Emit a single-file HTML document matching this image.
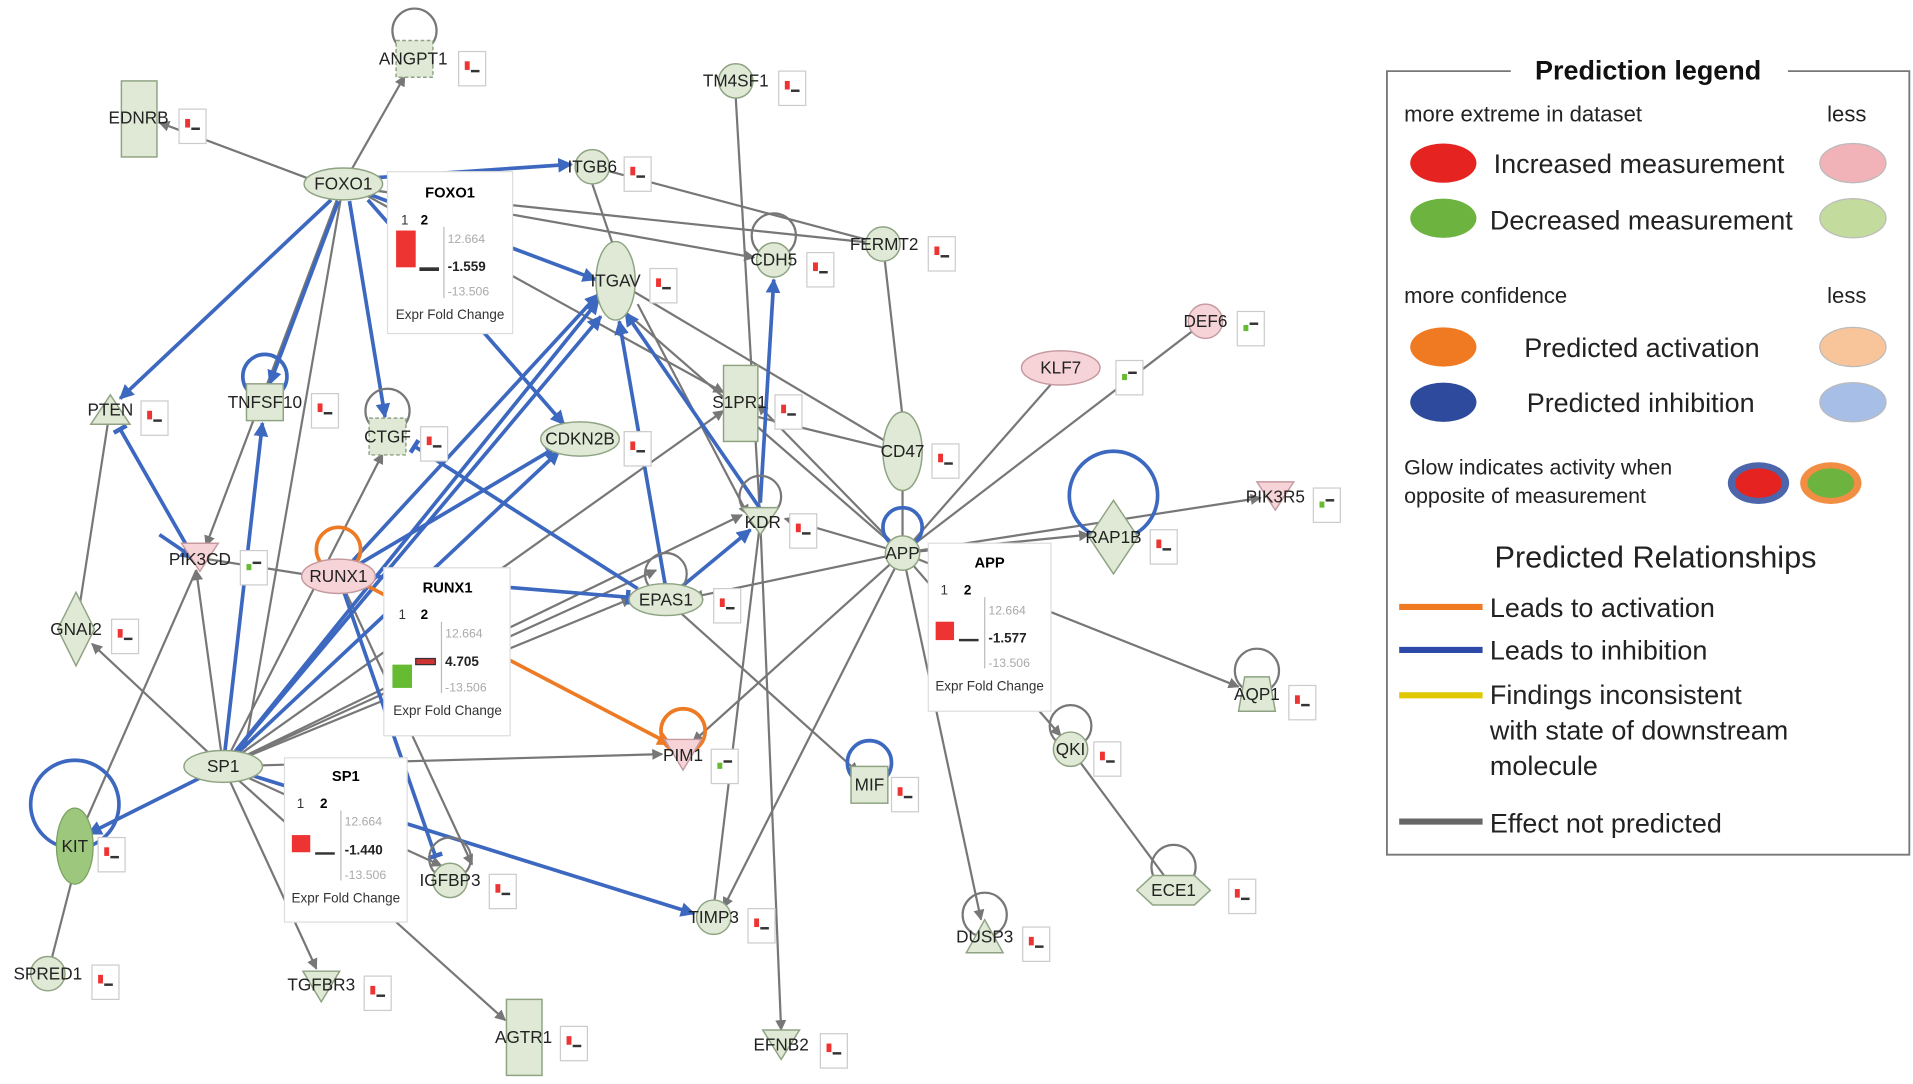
<!DOCTYPE html>
<html><head><meta charset="utf-8"><style>
html,body{margin:0;padding:0;background:#fff;}
svg{display:block;font-family:"Liberation Sans",sans-serif;}
.n{fill:#dfe9d5;stroke:#8fa383;stroke-width:1.2}
.p{fill:#f6d3d6;stroke:#c59aa0;stroke-width:1.2}
.l{font-size:14px;fill:#222;text-anchor:middle;dominant-baseline:middle}
.g{stroke:#777;stroke-width:1.8;fill:none}
.b{stroke:#3d68c0;stroke-width:3;fill:none}
.o{stroke:#ee7a24;stroke-width:3;fill:none}
.lp{fill:none;stroke:#777;stroke-width:1.8}
.lb{fill:none;stroke:#3d68c0;stroke-width:3}
.lo{fill:none;stroke:#ee7a24;stroke-width:3}
.ib{fill:#fff;stroke:#ddd;stroke-width:1}
.it{font-size:11px;fill:#333}
.lg{font-size:22px;fill:#222}
</style></head><body>
<svg width="1913" height="1084" viewBox="0 0 1560 884" preserveAspectRatio="none">
<defs>
<marker id="ag" viewBox="0 0 10 10" refX="9" refY="5" markerWidth="5" markerHeight="5" orient="auto"><path d="M0,0L10,5L0,10z" fill="#777"/></marker>
<marker id="ab" viewBox="0 0 10 10" refX="9" refY="5" markerWidth="4" markerHeight="4" orient="auto"><path d="M0,0L10,5L0,10z" fill="#3d68c0"/></marker>
<marker id="ao" viewBox="0 0 10 10" refX="9" refY="5" markerWidth="4" markerHeight="4" orient="auto"><path d="M0,0L10,5L0,10z" fill="#ee7a24"/></marker>
<marker id="tb" viewBox="0 0 4 10" refX="2" refY="5" markerWidth="3" markerHeight="4" orient="auto"><path d="M2,0L2,10" stroke="#3d68c0" stroke-width="3"/></marker>
<g id="mc"><rect x="0" y="0" width="22" height="28" fill="#fff" stroke="#ccc"/><rect x="5" y="8" width="4" height="7" fill="#e33"/><rect x="10" y="15" width="7" height="2" fill="#333"/></g>
<g id="mg"><rect x="0" y="0" width="22" height="28" fill="#fff" stroke="#ccc"/><rect x="5" y="11" width="4" height="5" fill="#6b3"/><rect x="10" y="9" width="7" height="2" fill="#333"/></g>
</defs>

<!-- grey edges -->
<g class="g" marker-end="url(#ag)">
<line x1="280" y1="150" x2="330" y2="62"/>
<line x1="250" y1="145" x2="130" y2="100"/>
<line x1="300" y1="155" x2="720" y2="199"/>
<line x1="300" y1="160" x2="590" y2="320"/>
<line x1="275" y1="162" x2="168" y2="445"/>
<line x1="305" y1="155" x2="615" y2="210"/>
<line x1="182" y1="625" x2="75" y2="525"/>
<line x1="182" y1="625" x2="160" y2="465"/>
<line x1="182" y1="625" x2="312" y2="370"/>
<line x1="182" y1="625" x2="360" y2="706"/>
<line x1="182" y1="625" x2="258" y2="790"/>
<line x1="182" y1="625" x2="412" y2="832"/>
<line x1="182" y1="625" x2="540" y2="615"/>
<line x1="182" y1="625" x2="605" y2="420"/>
<line x1="182" y1="625" x2="590" y2="335"/>
<line x1="182" y1="625" x2="515" y2="488"/>
<line x1="182" y1="625" x2="535" y2="465"/>
<line x1="736" y1="451" x2="505" y2="250"/>
<line x1="736" y1="451" x2="618" y2="330"/>
<line x1="736" y1="451" x2="640" y2="423"/>
<line x1="736" y1="451" x2="565" y2="487"/>
<line x1="736" y1="451" x2="590" y2="740"/>
<line x1="736" y1="451" x2="565" y2="605"/>
<line x1="736" y1="451" x2="865" y2="600"/>
<line x1="736" y1="451" x2="800" y2="750"/>
<line x1="736" y1="451" x2="888" y2="436"/>
<line x1="736" y1="451" x2="1028" y2="406"/>
<line x1="736" y1="451" x2="1010" y2="560"/>
<line x1="543" y1="489" x2="700" y2="630"/>
<line x1="276" y1="470" x2="385" y2="705"/>
<line x1="620" y1="425" x2="637" y2="840"/>
<line x1="520" y1="248" x2="610" y2="420"/>
</g>
<g class="g">
<line x1="736" y1="451" x2="860" y2="310"/>
<line x1="736" y1="451" x2="975" y2="268"/>
<line x1="736" y1="451" x2="736" y2="400"/>
<line x1="620" y1="425" x2="600" y2="80"/>
<line x1="720" y1="199" x2="736" y2="340"/>
<line x1="483" y1="136" x2="720" y2="199"/>
<line x1="483" y1="150" x2="500" y2="200"/>
<line x1="618" y1="340" x2="720" y2="365"/>
<line x1="620" y1="425" x2="582" y2="740"/>
<line x1="873" y1="611" x2="950" y2="715"/>
<line x1="61" y1="690" x2="160" y2="465"/>
<line x1="39" y1="794" x2="58" y2="720"/>
<line x1="62" y1="513" x2="88" y2="345"/>
<line x1="280" y1="150" x2="200" y2="610"/>
<line x1="163" y1="455" x2="246" y2="468"/>
<line x1="502" y1="229" x2="736" y2="368"/>
</g>
<!-- blue edges -->
<g class="b" marker-end="url(#ab)">
<line x1="305" y1="145" x2="466" y2="134"/>
<line x1="300" y1="158" x2="486" y2="228"/>
<line x1="270" y1="163" x2="98" y2="325"/>
<line x1="276" y1="164" x2="220" y2="313"/>
<line x1="285" y1="164" x2="314" y2="340"/>
<line x1="300" y1="163" x2="460" y2="346"/>
<line x1="182" y1="625" x2="72" y2="680"/>
<line x1="182" y1="625" x2="214" y2="345"/>
<line x1="182" y1="625" x2="488" y2="245"/>
<line x1="182" y1="625" x2="490" y2="258"/>
<line x1="182" y1="625" x2="456" y2="368"/>
<line x1="182" y1="625" x2="566" y2="745"/>
<line x1="276" y1="470" x2="488" y2="240"/>
<line x1="620" y1="415" x2="510" y2="255"/>
<line x1="543" y1="480" x2="505" y2="262"/>
<line x1="620" y1="410" x2="631" y2="228"/>
<line x1="543" y1="489" x2="612" y2="432"/>
</g>
<g class="b" marker-end="url(#tb)">
<line x1="158" y1="455" x2="98" y2="350"/>
<line x1="276" y1="470" x2="355" y2="698"/>
<line x1="305" y1="470" x2="512" y2="487"/>
<line x1="276" y1="470" x2="448" y2="368"/>
<line x1="520" y1="480" x2="338" y2="364"/>
</g>
<line class="b" x1="130" y1="436" x2="158" y2="455" marker-end="url(#ab)"/>
<line class="o" x1="300" y1="478" x2="547" y2="607" marker-end="url(#ao)"/>

<!-- loops -->
<circle class="lp" cx="338" cy="25" r="18"/>
<circle class="lp" cx="631" cy="192" r="18"/>
<circle class="lb" cx="216" cy="307" r="18"/>
<circle class="lp" cx="316" cy="335" r="18"/>
<circle class="lp" cx="620" cy="405" r="17"/>
<circle class="lb" cx="736" cy="430" r="16"/>
<circle class="lb" cx="908" cy="404" r="36"/>
<circle class="lo" cx="276" cy="448" r="18"/>
<circle class="lp" cx="543" cy="468" r="17"/>
<circle class="lp" cx="1025" cy="547" r="18"/>
<circle class="lo" cx="557" cy="596" r="18"/>
<circle class="lb" cx="709" cy="622" r="18"/>
<circle class="lp" cx="873" cy="592" r="17"/>
<circle class="lb" cx="61" cy="656" r="36"/>
<circle class="lp" cx="367" cy="700" r="17"/>
<circle class="lp" cx="957" cy="707" r="18"/>
<circle class="lp" cx="803" cy="746" r="18"/>

<!-- nodes -->
<rect class="n" x="323" y="33" width="30" height="30" stroke-dasharray="3,2"/>
<rect class="n" x="99" y="66" width="29" height="62"/>
<circle class="n" cx="600" cy="66" r="14"/>
<ellipse class="n" cx="280" cy="150" rx="32" ry="13"/>
<circle class="n" cx="483" cy="136" r="14"/>
<circle class="n" cx="720" cy="199" r="14"/>
<circle class="n" cx="631" cy="212" r="14"/>
<ellipse class="n" cx="502" cy="229" rx="16" ry="32"/>
<circle class="p" cx="983" cy="262" r="14"/>
<ellipse class="p" cx="865" cy="300" rx="32" ry="14"/>
<path class="n" d="M90,322L106,346L74,346z"/>
<rect class="n" x="201" y="313" width="30" height="30"/>
<rect class="n" x="301" y="341" width="30" height="30" stroke-dasharray="3,2"/>
<ellipse class="n" cx="473" cy="358" rx="32" ry="14"/>
<rect class="n" x="590" y="298" width="28" height="62"/>
<ellipse class="n" cx="736" cy="368" rx="16" ry="32"/>
<path class="n" d="M605,414L635,414L620,436z"/>
<circle class="n" cx="736" cy="451" r="14"/>
<path class="n" d="M908,408L928,438L908,468L888,438z"/>
<path class="p" d="M1025,393L1055,393L1040,416z"/>
<path class="p" d="M148,443L178,443L163,466z"/>
<ellipse class="p" cx="276" cy="470" rx="30" ry="14"/>
<ellipse class="n" cx="543" cy="489" rx="30" ry="13"/>
<path class="n" d="M62,483L77,513L62,543L47,513z"/>
<path class="n" d="M1015,552L1035,552L1040,580L1010,580z"/>
<path class="p" d="M542,603L572,603L557,628z"/>
<ellipse class="n" cx="182" cy="625" rx="32" ry="13"/>
<rect class="n" x="694" y="625" width="30" height="30"/>
<circle class="n" cx="873" cy="611" r="14"/>
<ellipse cx="61" cy="690" rx="15" ry="31" fill="#9dc77c" stroke="#7aa060"/>
<circle class="n" cx="367" cy="718" r="14"/>
<path class="n" d="M927,726L940,714L974,714L987,726L974,738L940,738z"/>
<circle class="n" cx="582" cy="748" r="14"/>
<path class="n" d="M803,750L818,777L788,777z"/>
<circle class="n" cx="39" cy="794" r="14"/>
<path class="n" d="M247,792L277,792L262,817z"/>
<rect class="n" x="413" y="815" width="29" height="62"/>
<path class="n" d="M622,840L652,840L637,864z"/>

<!-- labels -->
<g class="l">
<text class="l" x="337" y="49">ANGPT1</text>
<text class="l" x="113" y="97">EDNRB</text>
<text class="l" x="600" y="67">TM4SF1</text>
<text class="l" x="280" y="151">FOXO1</text>
<text class="l" x="483" y="137">ITGB6</text>
<text class="l" x="721" y="200">FERMT2</text>
<text class="l" x="631" y="213">CDH5</text>
<text class="l" x="502" y="230">ITGAV</text>
<text class="l" x="983" y="263">DEF6</text>
<text class="l" x="865" y="301">KLF7</text>
<text class="l" x="90" y="335">PTEN</text>
<text class="l" x="216" y="329">TNFSF10</text>
<text class="l" x="316" y="357">CTGF</text>
<text class="l" x="473" y="359">CDKN2B</text>
<text class="l" x="603" y="329">S1PR1</text>
<text class="l" x="736" y="369">CD47</text>
<text class="l" x="622" y="427">KDR</text>
<text class="l" x="736" y="452">APP</text>
<text class="l" x="908" y="439">RAP1B</text>
<text class="l" x="1040" y="406">PIK3R5</text>
<text class="l" x="163" y="457">PIK3CD</text>
<text class="l" x="276" y="471">RUNX1</text>
<text class="l" x="543" y="490">EPAS1</text>
<text class="l" x="62" y="514">GNAI2</text>
<text class="l" x="1025" y="567">AQP1</text>
<text class="l" x="557" y="617">PIM1</text>
<text class="l" x="182" y="626">SP1</text>
<text class="l" x="709" y="641">MIF</text>
<text class="l" x="873" y="612">QKI</text>
<text class="l" x="61" y="691">KIT</text>
<text class="l" x="367" y="719">IGFBP3</text>
<text class="l" x="957" y="727">ECE1</text>
<text class="l" x="582" y="749">TIMP3</text>
<text class="l" x="803" y="765">DUSP3</text>
<text class="l" x="39" y="795">SPRED1</text>
<text class="l" x="262" y="804">TGFBR3</text>
<text class="l" x="427" y="847">AGTR1</text>
<text class="l" x="637" y="853">EFNB2</text>
</g>

<!-- mini charts -->
<use href="#mc" x="374" y="42"/><use href="#mc" x="146" y="89"/><use href="#mc" x="635" y="58"/>
<use href="#mc" x="509" y="128"/><use href="#mc" x="757" y="193"/><use href="#mc" x="658" y="206"/>
<use href="#mc" x="530" y="219"/><use href="#mg" x="1009" y="254"/><use href="#mg" x="910" y="294"/>
<use href="#mc" x="115" y="327"/><use href="#mc" x="254" y="321"/><use href="#mc" x="343" y="348"/>
<use href="#mc" x="509" y="352"/><use href="#mc" x="632" y="322"/><use href="#mc" x="760" y="362"/>
<use href="#mc" x="644" y="419"/><use href="#mc" x="938" y="432"/><use href="#mg" x="1071" y="398"/>
<use href="#mg" x="196" y="449"/><use href="#mc" x="582" y="480"/><use href="#mc" x="91" y="505"/>
<use href="#mc" x="1051" y="559"/><use href="#mg" x="580" y="611"/><use href="#mc" x="727" y="634"/>
<use href="#mc" x="892" y="605"/><use href="#mc" x="80" y="683"/><use href="#mc" x="399" y="713"/>
<use href="#mc" x="1002" y="717"/><use href="#mc" x="610" y="741"/><use href="#mc" x="834" y="756"/>
<use href="#mc" x="75" y="787"/><use href="#mc" x="297" y="796"/><use href="#mc" x="457" y="837"/>
<use href="#mc" x="669" y="843"/>

<!-- info boxes -->
<g>
<rect class="ib" x="316" y="140" width="102" height="132"/>
<text x="367" y="161" font-size="12" font-weight="bold" text-anchor="middle">FOXO1</text>
<text x="327" y="183" class="it" fill="#999">1</text><text x="343" y="183" font-size="11" font-weight="bold">2</text>
<line x1="362" y1="185" x2="362" y2="243" stroke="#bbb"/>
<rect x="323" y="188" width="16" height="30" fill="#e33"/><rect x="342" y="218" width="16" height="3" fill="#333"/>
<text x="365" y="198" font-size="10" fill="#aaa">12.664</text>
<text x="365" y="221" font-size="11" font-weight="bold" fill="#222">-1.559</text>
<text x="365" y="241" font-size="10" fill="#aaa">-13.506</text>
<text x="367" y="260" class="it" text-anchor="middle">Expr Fold Change</text>
</g>
<g>
<rect class="ib" x="313" y="463" width="103" height="137"/>
<text x="365" y="483" font-size="12" font-weight="bold" text-anchor="middle">RUNX1</text>
<text x="325" y="505" class="it" fill="#999">1</text><text x="343" y="505" font-size="11" font-weight="bold">2</text>
<line x1="360" y1="507" x2="360" y2="565" stroke="#bbb"/>
<rect x="320" y="542" width="16" height="19" fill="#6b3"/><rect x="339" y="537" width="16" height="5" fill="#c33" stroke="#333" stroke-width="1"/>
<text x="363" y="520" font-size="10" fill="#aaa">12.664</text>
<text x="363" y="543" font-size="11" font-weight="bold" fill="#222">4.705</text>
<text x="363" y="564" font-size="10" fill="#aaa">-13.506</text>
<text x="365" y="583" class="it" text-anchor="middle">Expr Fold Change</text>
</g>
<g>
<rect class="ib" x="232" y="618" width="100" height="134"/>
<text x="282" y="637" font-size="12" font-weight="bold" text-anchor="middle">SP1</text>
<text x="242" y="659" class="it" fill="#999">1</text><text x="261" y="659" font-size="11" font-weight="bold">2</text>
<line x1="278" y1="661" x2="278" y2="718" stroke="#bbb"/>
<rect x="238" y="681" width="15" height="14" fill="#e33"/><rect x="257" y="695" width="16" height="2" fill="#333"/>
<text x="281" y="673" font-size="10" fill="#aaa">12.664</text>
<text x="281" y="697" font-size="11" font-weight="bold" fill="#222">-1.440</text>
<text x="281" y="717" font-size="10" fill="#aaa">-13.506</text>
<text x="282" y="736" class="it" text-anchor="middle">Expr Fold Change</text>
</g>
<g>
<rect class="ib" x="757" y="443" width="100" height="137"/>
<text x="807" y="463" font-size="12" font-weight="bold" text-anchor="middle">APP</text>
<text x="767" y="485" class="it" fill="#999">1</text><text x="786" y="485" font-size="11" font-weight="bold">2</text>
<line x1="803" y1="487" x2="803" y2="545" stroke="#bbb"/>
<rect x="763" y="507" width="15" height="15" fill="#e33"/><rect x="782" y="521" width="16" height="2" fill="#333"/>
<text x="806" y="501" font-size="10" fill="#aaa">12.664</text>
<text x="806" y="524" font-size="11" font-weight="bold" fill="#222">-1.577</text>
<text x="806" y="544" font-size="10" fill="#aaa">-13.506</text>
<text x="807" y="563" class="it" text-anchor="middle">Expr Fold Change</text>
</g>

<!-- legend -->
<g>
<path d="M1232,58H1131V697H1557V58H1458" fill="none" stroke="#777" stroke-width="1.5"/>
<text x="1344" y="65" font-size="22" font-weight="bold" text-anchor="middle" fill="#111">Prediction legend</text>
<text x="1145" y="99" font-size="18" fill="#222">more extreme in dataset</text>
<text x="1490" y="99" font-size="18" fill="#222">less</text>
<ellipse cx="1177" cy="133" rx="27" ry="16" fill="#e52421"/>
<ellipse cx="1511" cy="133" rx="27" ry="16" fill="#f2b3b8" stroke="#bbb"/>
<text x="1218" y="141" class="lg">Increased measurement</text>
<ellipse cx="1177" cy="178" rx="27" ry="16" fill="#6db33f"/>
<ellipse cx="1511" cy="178" rx="27" ry="16" fill="#c3dc9e" stroke="#bbb"/>
<text x="1215" y="187" class="lg">Decreased measurement</text>
<text x="1145" y="247" font-size="18" fill="#222">more confidence</text>
<text x="1490" y="247" font-size="18" fill="#222">less</text>
<ellipse cx="1177" cy="283" rx="27" ry="16" fill="#ef7a22"/>
<ellipse cx="1511" cy="283" rx="27" ry="16" fill="#f8c59b" stroke="#bbb"/>
<text x="1243" y="291" class="lg">Predicted activation</text>
<ellipse cx="1177" cy="328" rx="27" ry="16" fill="#2e4a9c"/>
<ellipse cx="1511" cy="328" rx="27" ry="16" fill="#a7bfe6" stroke="#bbb"/>
<text x="1245" y="336" class="lg">Predicted inhibition</text>
<text x="1145" y="387" font-size="17.5" fill="#222">Glow indicates activity when</text>
<text x="1145" y="410" font-size="17.5" fill="#222">opposite of measurement</text>
<ellipse cx="1434" cy="394" rx="25" ry="17" fill="#2e4a9c" opacity="0.85"/>
<ellipse cx="1434" cy="394" rx="19" ry="12" fill="#e52421"/>
<ellipse cx="1493" cy="394" rx="25" ry="17" fill="#ef7a22" opacity="0.85"/>
<ellipse cx="1493" cy="394" rx="19" ry="12" fill="#6db33f"/>
<text x="1350" y="463" font-size="25" text-anchor="middle" fill="#222">Predicted Relationships</text>
<line x1="1141" y1="495" x2="1209" y2="495" stroke="#ef7a22" stroke-width="5"/>
<text x="1215" y="503" class="lg">Leads to activation</text>
<line x1="1141" y1="530" x2="1209" y2="530" stroke="#2e4aa8" stroke-width="5"/>
<text x="1215" y="538" class="lg">Leads to inhibition</text>
<line x1="1141" y1="567" x2="1209" y2="567" stroke="#e0c800" stroke-width="5"/>
<text x="1215" y="574" class="lg">Findings inconsistent</text>
<text x="1215" y="603" class="lg">with state of downstream</text>
<text x="1215" y="632" class="lg">molecule</text>
<line x1="1141" y1="670" x2="1209" y2="670" stroke="#666" stroke-width="5"/>
<text x="1215" y="679" class="lg">Effect not predicted</text>
</g>
</svg>
</body></html>
